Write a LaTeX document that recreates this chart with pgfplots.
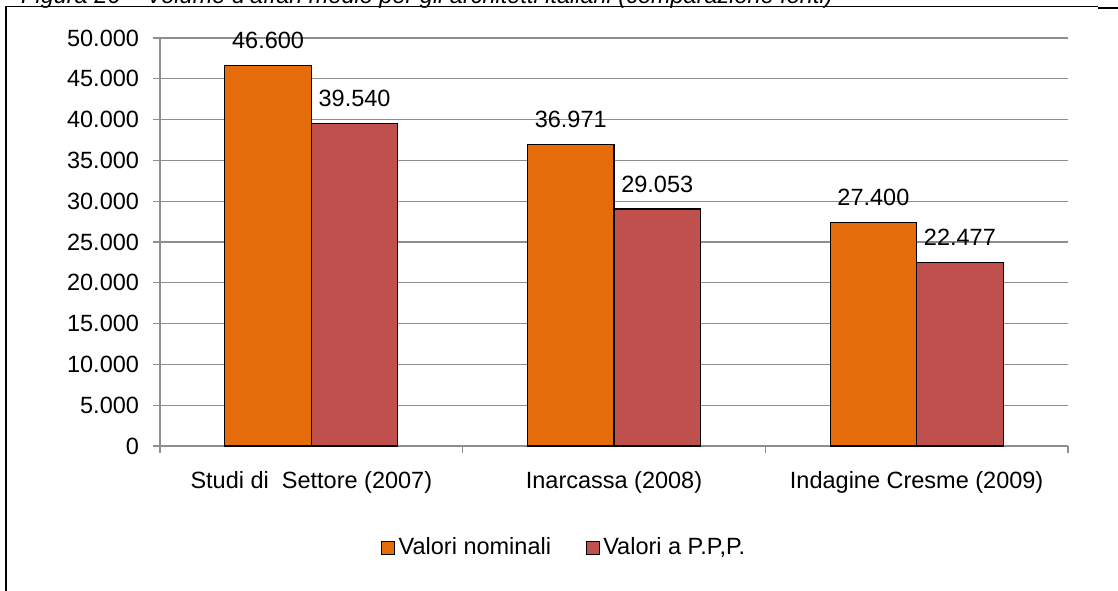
\documentclass[border=0pt]{standalone}
\usepackage{fontspec}
\setmainfont{Liberation Sans}
\usepackage{pgfplots}
\pgfplotsset{compat=1.18}
\definecolor{cOrange}{HTML}{E46C0A}
\definecolor{cRed}{HTML}{C0504D}
\definecolor{cGrid}{HTML}{8E8E8E}
\begin{document}
\fontsize{23.5}{28}\selectfont
\begin{tikzpicture}[x=1pt,y=1pt]
\begin{axis}[
  at={(160pt,144pt)}, anchor=south west,
  scale only axis, width=908pt, height=408pt,
  xmin=-0.5, xmax=2.5, ymin=0, ymax=50000,
  scaled y ticks=false,
  ybar=0pt, bar width=86.5pt,
  axis x line*=bottom, axis y line*=left,
  axis line style={cGrid, line width=1.3pt},
  ytick={0,5000,10000,15000,20000,25000,30000,35000,40000,45000,50000},
  yticklabels={0,5.000,10.000,15.000,20.000,25.000,30.000,35.000,40.000,45.000,50.000},
  ymajorgrids, grid style={cGrid, line width=1.3pt},
  xtick={0,1,2},
  xticklabels={Studi di\ \ Settore (2007), Inarcassa (2008), Indagine Cresme (2009)},
  minor xtick={-0.5,0.5,1.5,2.5},
  tick align=outside,
  major tick length=7pt, minor tick length=7pt,
  tick style={cGrid, line width=1.3pt},
  every major x tick/.append style={draw=none},
  ticklabel style={font=\fontsize{23.5}{28}\selectfont, black},
  yticklabel style={xshift=-6pt},
  xticklabel style={yshift=-10pt},
  every node near coord/.append style={anchor=center, yshift=25pt, black, font=\fontsize{23.5}{28}\selectfont},
  legend columns=2,
  legend style={at={(0.2434,-0.25)}, anchor=west, draw=none, fill=none, inner sep=0pt, outer sep=0pt,
    font=\fontsize{23.5}{28}\selectfont, nodes={inner sep=3.5pt},
    /tikz/every even column/.append style={column sep=31pt}},
  legend image code/.code={\draw[#1, line width=1.2pt] (0pt,-6.5pt) rectangle (13pt,6.5pt);},
]
\addplot[fill=cOrange, draw=black, line width=1.2pt, nodes near coords, point meta=explicit symbolic]
  coordinates {(0,46600)[46.600] (1,36971)[36.971] (2,27400)[27.400]};
\addplot[fill=cRed, draw=black, line width=1.2pt, nodes near coords, point meta=explicit symbolic]
  coordinates {(0,39540)[39.540] (1,29053)[29.053] (2,22477)[22.477]};
\legend{Valori nominali, {Valori a P.P,P.}}
\end{axis}
\node[anchor=base west, inner sep=0pt, font=\itshape\fontsize{23.5}{28}\selectfont] at (21,586) {Figura 26 – Volume d'affari medio per gli architetti italiani (comparazione fonti)};
\draw[line width=1pt] (5,583) -- (1098,583);
\draw[line width=2pt] (1098,582) -- (1118,582);
\draw[line width=2.3pt] (6.2,583.5) -- (6.2,-5);
\pgfresetboundingbox
\useasboundingbox (0,0) rectangle (1118,590);
\end{tikzpicture}
\end{document}
